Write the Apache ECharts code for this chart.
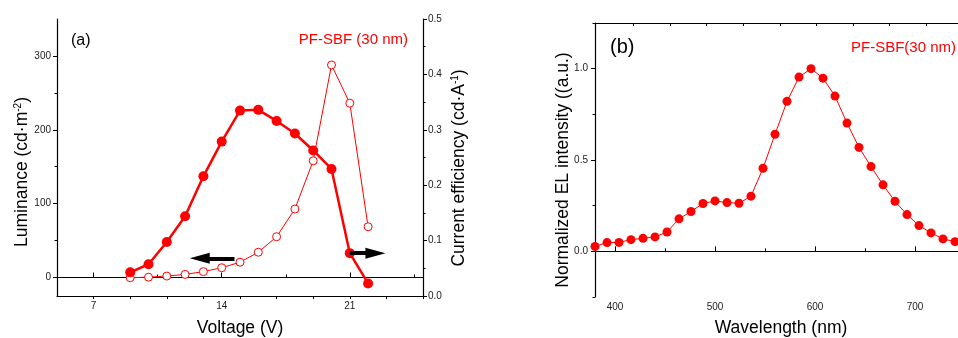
<!DOCTYPE html>
<html>
<head>
<meta charset="utf-8">
<script src="https://cdn.jsdelivr.net/npm/echarts@6/dist/echarts.min.js"></script>
<style>
  html, body { margin: 0; padding: 0; background: #fff; }
  #chart { width: 958px; height: 338px; }
</style>
</head>
<body>
<div id="chart"></div>
<script>
// (a) luminance / current efficiency vs voltage
const voltage = [9, 10, 11, 12, 13, 14, 15, 16, 17, 18, 19, 20, 21, 22];
const luminance = [7, 18, 48, 83, 137, 184, 226, 227, 212, 195, 172, 147, 33, -8];
const efficiency = [0.033, 0.034, 0.036, 0.039, 0.044, 0.051, 0.061, 0.079, 0.107, 0.157, 0.244, 0.417, 0.348, 0.125];

// (b) EL spectrum
const wavelength = [380, 392, 404, 416, 428, 440, 452, 464, 476, 488, 500, 512, 524, 536, 548, 560,
  572, 584, 596, 608, 620, 632, 644, 656, 668, 680, 692, 704, 716, 728, 740];
const elIntensity = [0.027, 0.048, 0.049, 0.064, 0.071, 0.079, 0.106, 0.178, 0.218, 0.262, 0.276, 0.267,
  0.263, 0.302, 0.455, 0.641, 0.821, 0.954, 1.0, 0.948, 0.850, 0.702, 0.569, 0.464, 0.364, 0.274,
  0.201, 0.141, 0.101, 0.068, 0.053];

// tick values
const voltTicks = [7, 14, 21];
const voltMinor = [10.5, 17.5, 24.5];
const voltTopTicks = [7, 9, 11, 13, 15, 17, 19, 21, 23, 25];
const lumTicks = [0, 100, 200, 300];
const lumMinor = [50, 150, 250];
const waveTicks = [400, 500, 600, 700, 800];
const waveMinor = [450, 550, 650, 750];
const waveTopTicks = [418.3, 455, 491.6, 528.2, 564.8, 601.4, 638, 674.6, 711.2, 747.8, 784.4];
const elTicks = [0, 0.5, 1.0];
const elMinor = [-0.25, 0.25, 0.75, 1.25];

// arrows: [from, to] in data units of panel (a)
const arrowLeft = [[14.7, 26], [12.8, 26]];
const arrowRight = [[21.0, 33], [22.4, 33]];

const FONT = "'Liberation Sans', Arial, sans-serif";
const RED = '#ff0000';
const tickLabel = { color: '#222', fontSize: 10, fontFamily: FONT };

function frameAxis(extra) {
  return Object.assign({
    type: 'value',
    axisLine: { show: true, lineStyle: { color: '#000', width: 1.2 } },
    splitLine: { show: false },
    axisLabel: { show: false },
    axisTick: { show: false }
  }, extra);
}

function arrow(pts) {
  return [
    { coord: pts[0], symbol: 'none' },
    { coord: pts[1], symbol: 'triangle', symbolSize: [11, 20] }
  ];
}

const chart = echarts.init(document.getElementById('chart'));

const option = {
  backgroundColor: '#fff',
  animation: false,
  grid: [
    { left: 57, top: 19, width: 366, height: 277, outerBoundsMode: 'none' },
    { left: 595, top: 23, width: 420, height: 274, outerBoundsMode: 'none' }
  ],
  xAxis: [
    frameAxis({
      gridIndex: 0, position: 'bottom', min: 5, max: 25,
      axisLabel: Object.assign({ show: true, margin: 5, customValues: voltTicks }, tickLabel),
      axisTick: { show: true, inside: true, length: 5, customValues: voltTicks, lineStyle: { color: '#000' } }
    }),
    frameAxis({
      gridIndex: 0, position: 'bottom', min: 5, max: 25,
      axisLine: { show: false },
      axisTick: { show: true, inside: true, length: 3, customValues: voltMinor, lineStyle: { color: '#000' } }
    }),
    frameAxis({
      gridIndex: 0, position: 'top', min: 5, max: 25,
      axisTick: { show: true, inside: true, length: 3, customValues: voltTopTicks, lineStyle: { color: '#000' } }
    }),
    frameAxis({
      gridIndex: 1, position: 'bottom', min: 380, max: 800,
      axisLabel: Object.assign({ show: true, margin: 5, customValues: waveTicks }, tickLabel),
      axisTick: { show: true, inside: true, length: 5, customValues: waveTicks, lineStyle: { color: '#000' } }
    }),
    frameAxis({
      gridIndex: 1, position: 'bottom', min: 380, max: 800,
      axisLine: { show: false },
      axisTick: { show: true, inside: true, length: 3, customValues: waveMinor, lineStyle: { color: '#000' } }
    }),
    frameAxis({
      gridIndex: 1, position: 'top', min: 380, max: 800,
      axisTick: { show: true, inside: true, length: 3, customValues: waveTopTicks, lineStyle: { color: '#000' } }
    })
  ],
  yAxis: [
    frameAxis({
      gridIndex: 0, position: 'left', min: -25, max: 350,
      axisLabel: Object.assign({ show: true, margin: 6, customValues: lumTicks }, tickLabel),
      axisTick: { show: true, length: 4, customValues: lumTicks, lineStyle: { color: '#000' } }
    }),
    frameAxis({
      gridIndex: 0, position: 'left', min: -25, max: 350,
      axisLine: { show: false },
      axisTick: { show: true, length: 2.5, customValues: lumMinor, lineStyle: { color: '#000' } }
    }),
    frameAxis({
      gridIndex: 0, position: 'right', min: 0, max: 0.5, interval: 0.1,
      axisLabel: Object.assign({ show: true, margin: 5, formatter: (v) => v.toFixed(1) }, tickLabel),
      axisTick: { show: true, length: 4, lineStyle: { color: '#000' } },
      minorTick: { show: true, splitNumber: 2, length: 2.5, lineStyle: { color: '#000' } }
    }),
    frameAxis({
      gridIndex: 1, position: 'left', min: -0.25, max: 1.25,
      axisLabel: Object.assign({ show: true, margin: 7, customValues: elTicks, formatter: (v) => v.toFixed(1) }, tickLabel),
      axisTick: { show: true, length: 4, customValues: elTicks, lineStyle: { color: '#000' } }
    }),
    frameAxis({
      gridIndex: 1, position: 'left', min: -0.25, max: 1.25,
      axisLine: { show: false },
      axisTick: { show: true, length: 2.5, customValues: elMinor, lineStyle: { color: '#000' } }
    })
  ],
  series: [
    {
      name: 'efficiency',
      type: 'line',
      xAxisIndex: 0,
      yAxisIndex: 2,
      z: 2,
      data: voltage.map((v, i) => [v, efficiency[i]]),
      symbol: 'circle',
      symbolSize: 8,
      lineStyle: { color: RED, width: 1 },
      itemStyle: { color: '#fff', borderColor: RED, borderWidth: 1 }
    },
    {
      name: 'luminance',
      type: 'line',
      xAxisIndex: 0,
      yAxisIndex: 0,
      z: 3,
      data: voltage.map((v, i) => [v, luminance[i]]),
      symbol: 'circle',
      symbolSize: 10,
      lineStyle: { color: RED, width: 2.5 },
      itemStyle: { color: RED },
      markLine: {
        silent: true,
        symbol: ['none', 'triangle'],
        symbolSize: 16,
        lineStyle: { color: '#000', width: 4, type: 'solid' },
        itemStyle: { color: '#000' },
        label: { show: false },
        data: [arrow(arrowLeft), arrow(arrowRight)]
      }
    },
    {
      name: 'EL',
      type: 'line',
      xAxisIndex: 3,
      yAxisIndex: 3,
      data: wavelength.map((w, i) => [w, elIntensity[i]]),
      symbol: 'circle',
      symbolSize: 9,
      lineStyle: { color: RED, width: 1 },
      itemStyle: { color: RED }
    }
  ],
  graphic: [
    { type: 'text', left: 71, top: 33, style: { text: '(a)', font: '16px ' + FONT, fill: '#000' } },
    { type: 'text', right: 550, top: 32, style: { text: 'PF-SBF (30 nm)', font: '15px ' + FONT, fill: RED } },
    { type: 'text', left: 610, top: 37, style: { text: '(b)', font: '20px ' + FONT, fill: '#000' } },
    { type: 'text', left: 851, top: 40, style: { text: 'PF-SBF(30 nm)', font: '15px ' + FONT, fill: RED } },
    {
      type: 'text', x: 240, y: 328,
      style: { text: 'Voltage (V)', font: '17.5px ' + FONT, fill: '#000', align: 'center', verticalAlign: 'middle' }
    },
    {
      type: 'text', x: 781, y: 328,
      style: { text: 'Wavelength (nm)', font: '17.5px ' + FONT, fill: '#000', align: 'center', verticalAlign: 'middle' }
    },
    {
      type: 'text', x: 22, y: 172, rotation: Math.PI / 2,
      style: {
        text: 'Luminance (cd·m{sup|-2})',
        font: '17.5px ' + FONT, fill: '#000', align: 'center', verticalAlign: 'middle',
        rich: { sup: { fontSize: 10, fontFamily: FONT, verticalAlign: 'top', padding: [0, 0, 8, 0] } }
      }
    },
    {
      type: 'text', x: 459, y: 168, rotation: Math.PI / 2,
      style: {
        text: 'Current efficiency (cd·A{sup|-1})',
        font: '17.5px ' + FONT, fill: '#000', align: 'center', verticalAlign: 'middle',
        rich: { sup: { fontSize: 10, fontFamily: FONT, verticalAlign: 'top', padding: [0, 0, 8, 0] } }
      }
    },
    {
      type: 'text', x: 563, y: 170, rotation: Math.PI / 2,
      style: { text: 'Normalized EL intensity ((a.u.)', font: '17.5px ' + FONT, fill: '#000', align: 'center', verticalAlign: 'middle' }
    }
  ]
};

chart.setOption(option);
</script>
</body>
</html>
